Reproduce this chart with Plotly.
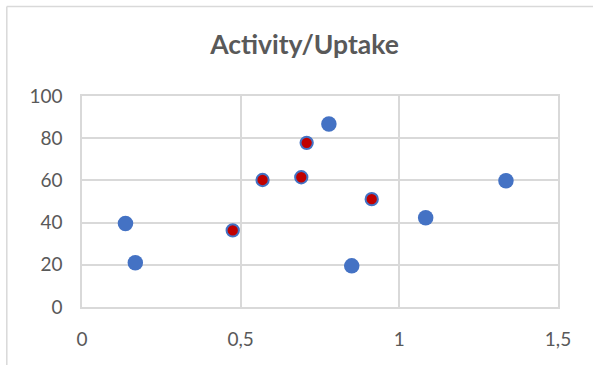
import plotly.graph_objects as go

# Activity vs. uptake measurements
blue_x = [0.137, 0.168, 0.778, 0.850, 1.083, 1.336]
blue_y = [39.6, 21.0, 86.7, 19.5, 42.3, 59.8]

red_x = [0.475, 0.569, 0.691, 0.708, 0.913]
red_y = [36.3, 60.2, 61.5, 77.8, 51.1]

x_ticks = [0, 0.5, 1, 1.5]
x_tick_text = ["0", "0,5", "1", "1,5"]
y_ticks = [0, 20, 40, 60, 80, 100]

W, H = 593, 365
L, R, T, B = 82, 35, 96, 58
GRID = "#d9d9d9"
TEXT = "#595959"

fig = go.Figure()
fig.add_trace(go.Scatter(
    x=blue_x, y=blue_y, mode="markers",
    marker=dict(size=15.5, color="#4472C4", line=dict(width=0)),
    showlegend=False, cliponaxis=False,
))
fig.add_trace(go.Scatter(
    x=red_x, y=red_y, mode="markers",
    marker=dict(size=12.3, color="#C00000", line=dict(width=2, color="#4472C4")),
    showlegend=False, cliponaxis=False,
))

pw = W - L - R
ph = H - T - B
# chart-area frame (top and left edges)
fx = (6.8 - L) / pw
fy = 1 + (T - 6.5) / ph
fig.add_shape(type="line", xref="paper", yref="paper", x0=fx, x1=(W + 5 - L) / pw, y0=fy, y1=fy,
              line=dict(color=GRID, width=1.5))
fig.add_shape(type="line", xref="paper", yref="paper", x0=fx, x1=fx, y0=fy, y1=-(B + 5) / ph,
              line=dict(color=GRID, width=1.5))

fig.update_layout(
    width=W, height=H,
    margin=dict(l=L, r=R, t=T, b=B),
    paper_bgcolor="white", plot_bgcolor="white",
    title=dict(text="<b>Activity/Uptake</b>", x=(304.5 - L) / pw, xref="paper", xanchor="center",
               y=1 - 45 / H, yanchor="middle",
               font=dict(family="Lato", size=26.5, color=TEXT)),
    font=dict(family="Lato", size=19, color=TEXT),
)
fig.update_xaxes(
    range=[0, 1.5], tickvals=x_ticks, ticktext=x_tick_text,
    showgrid=True, gridcolor=GRID, gridwidth=1.5,
    showline=True, linecolor=GRID, linewidth=1.5, mirror=True,
    zeroline=False, ticks="", ticklen=0, ticklabelstandoff=14,
)
fig.update_yaxes(
    range=[0, 100], tickvals=y_ticks,
    showgrid=True, gridcolor=GRID, gridwidth=1.5,
    showline=True, linecolor=GRID, linewidth=1.5, mirror=True,
    zeroline=False, ticks="", ticklen=0, ticklabelstandoff=14,
)

fig.write_html("out.html")
